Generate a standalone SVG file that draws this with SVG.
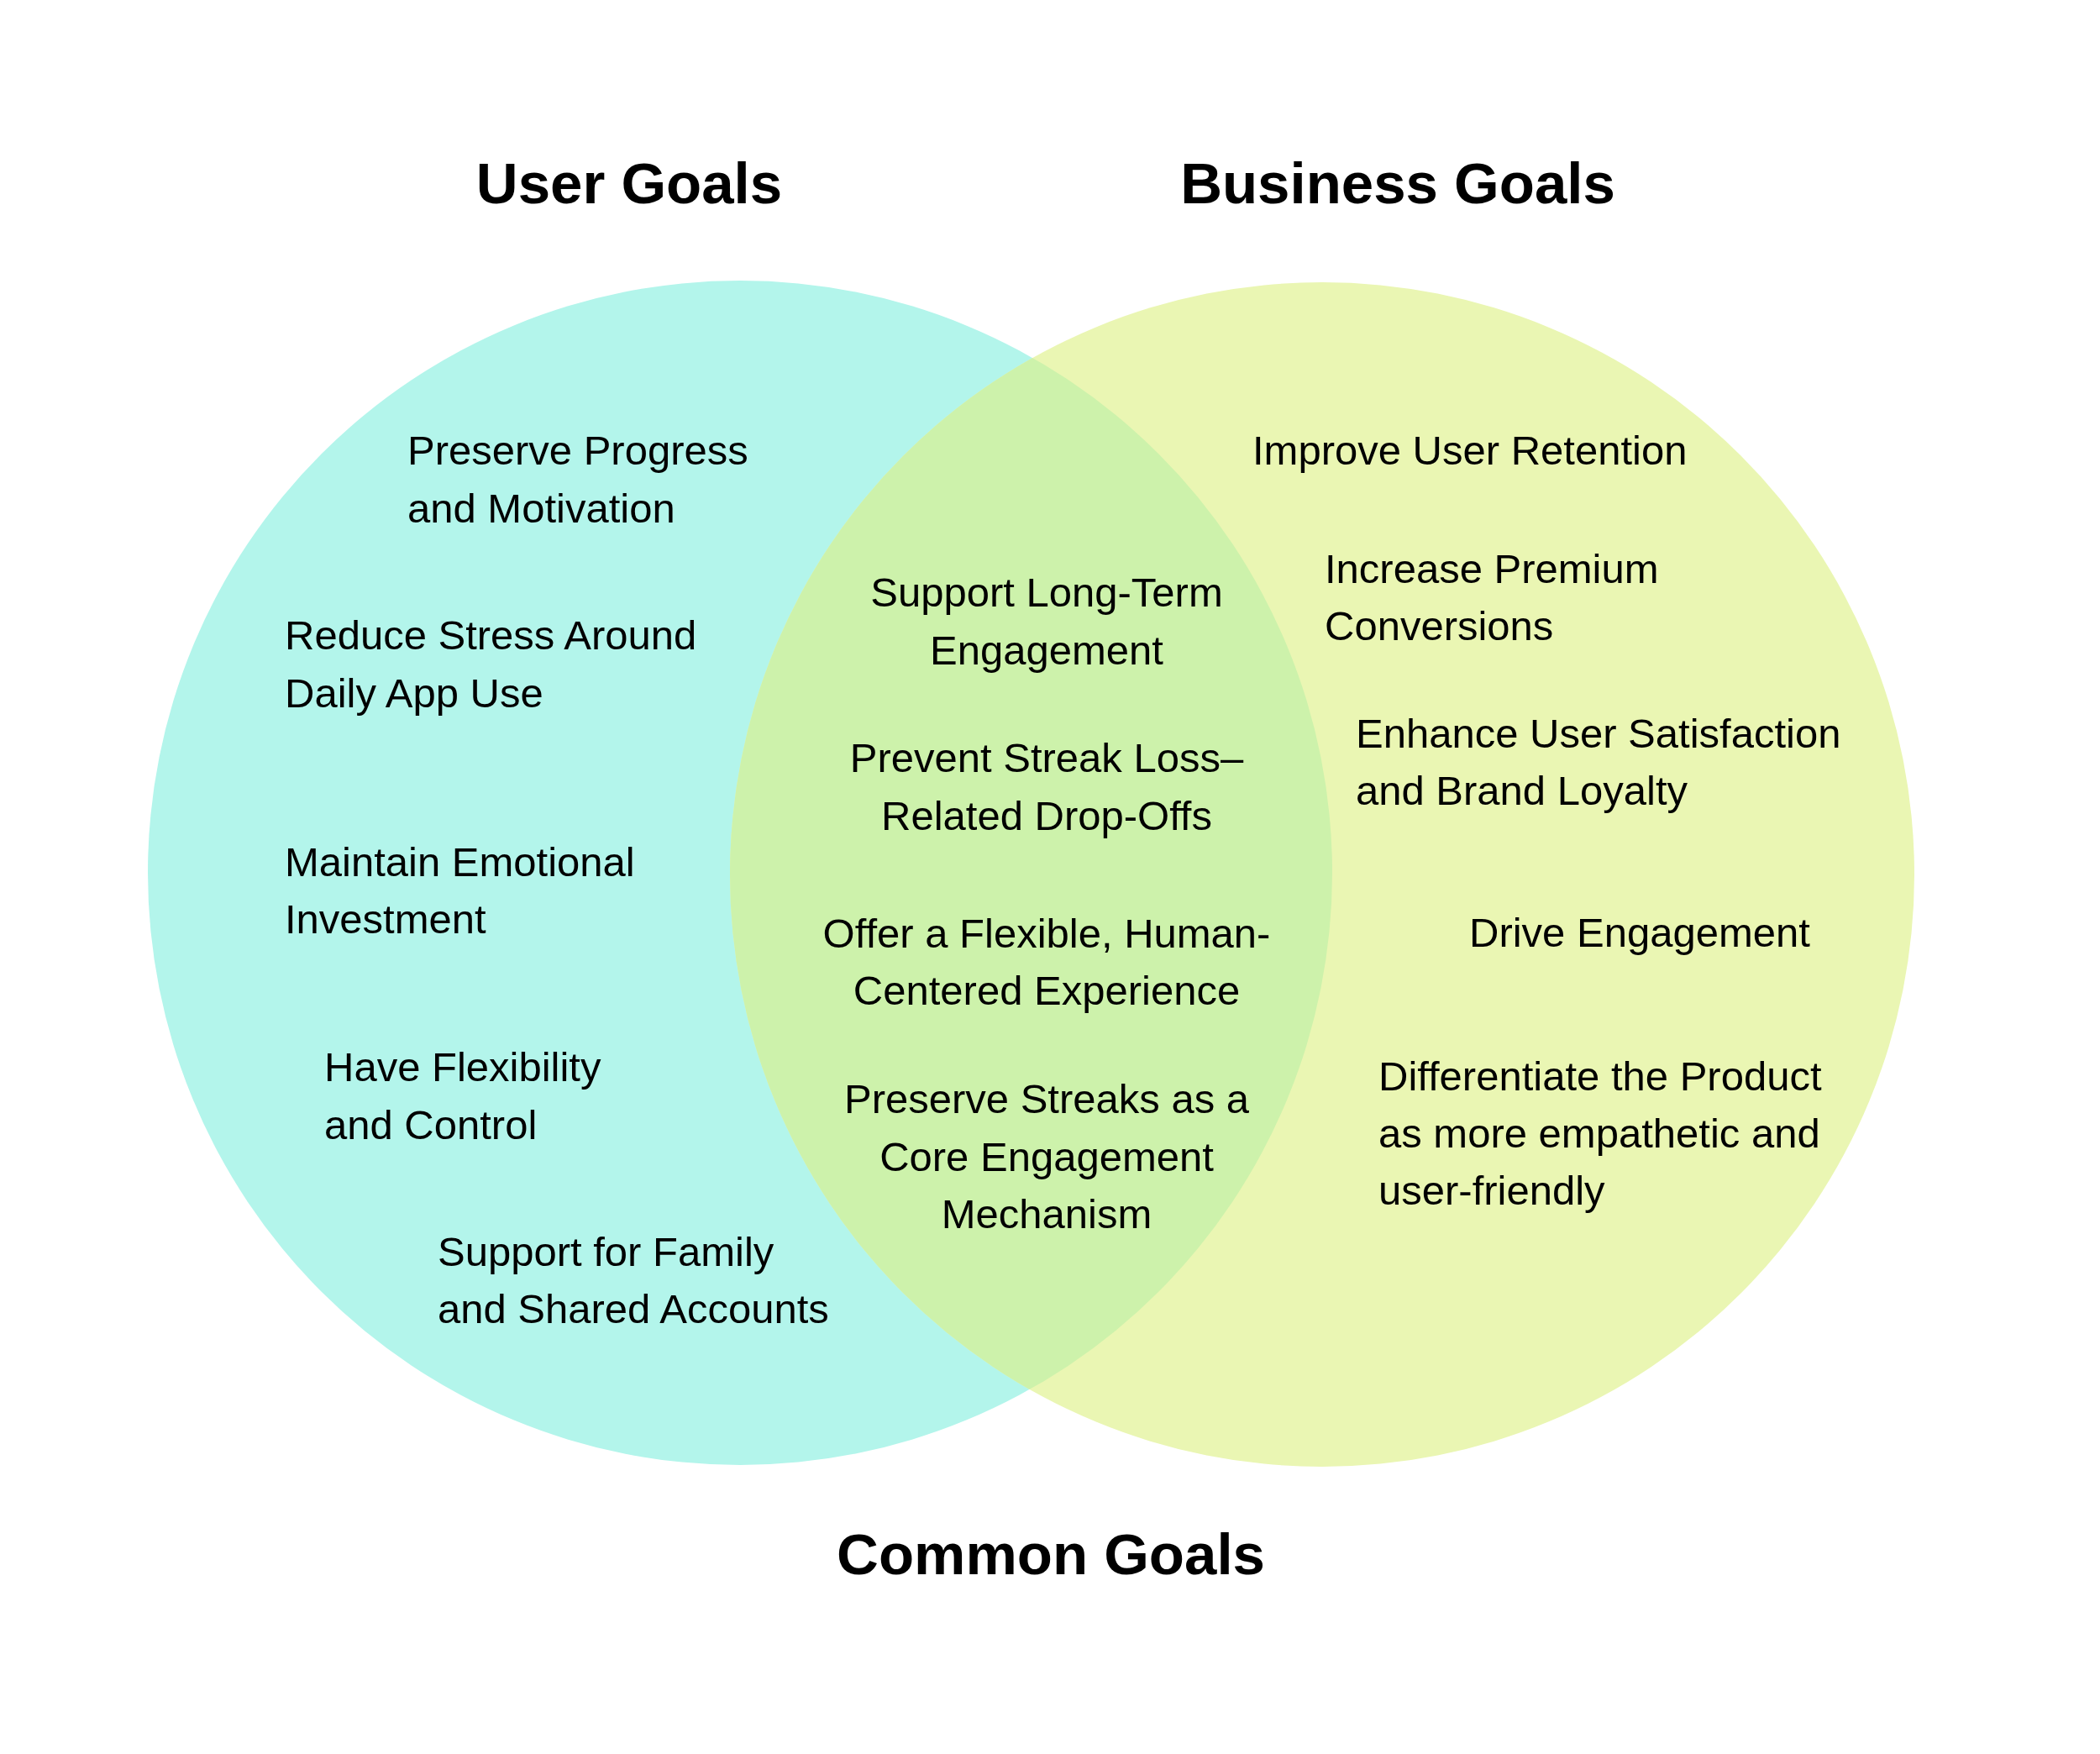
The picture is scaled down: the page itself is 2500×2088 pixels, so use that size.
<svg xmlns="http://www.w3.org/2000/svg" width="2500" height="2088" viewBox="0 0 2500 2088">
<style>
.t{font-family:"Liberation Sans",Arial,sans-serif;font-size:49px;fill:#000}
.c{text-anchor:middle}
.h{font-family:"Liberation Sans",Arial,sans-serif;font-size:69px;font-weight:bold;fill:#000;text-anchor:middle}
</style>
<defs>
<clipPath id="clipL"><circle cx="881" cy="1039" r="705"/></clipPath>
</defs>
<rect width="2500" height="2088" fill="#ffffff"/>
<g id="circles">
<circle id="user-circle" cx="881" cy="1039" r="705" fill="#b3f5eb"/>
<circle id="business-circle" cx="1574" cy="1041" r="705" fill="#eaf6b3"/>
<circle id="overlap" cx="1574" cy="1041" r="705" fill="#cdf2ab" clip-path="url(#clipL)"/>
</g>
<g id="titles">
<text id="user-title" class="h" x="749" y="242">User Goals</text>
<text id="business-title" class="h" x="1664" y="242">Business Goals</text>
<text id="common-title" class="h" x="1251" y="1874">Common Goals</text>
</g>
<g id="user-goals">
<g id="u1"><text class="t" x="485" y="553">Preserve Progress</text><text class="t" x="485" y="622">and Motivation</text></g>
<g id="u2"><text class="t" x="339" y="773">Reduce Stress Around</text><text class="t" x="339" y="842">Daily App Use</text></g>
<g id="u3"><text class="t" x="339" y="1043">Maintain Emotional</text><text class="t" x="339" y="1111">Investment</text></g>
<g id="u4"><text class="t" x="386" y="1287">Have Flexibility</text><text class="t" x="386" y="1356">and Control</text></g>
<g id="u5"><text class="t" x="521" y="1507">Support for Family</text><text class="t" x="521" y="1575">and Shared Accounts</text></g>
</g>
<g id="common-goals">
<g id="c1"><text class="t c" x="1246" y="722">Support Long-Term</text><text class="t c" x="1246" y="791">Engagement</text></g>
<g id="c2"><text class="t c" x="1246" y="919">Prevent Streak Loss–</text><text class="t c" x="1246" y="988">Related Drop-Offs</text></g>
<g id="c3"><text class="t c" x="1246" y="1128">Offer a Flexible, Human-</text><text class="t c" x="1246" y="1196">Centered Experience</text></g>
<g id="c4"><text class="t c" x="1246" y="1325">Preserve Streaks as a</text><text class="t c" x="1246" y="1394">Core Engagement</text><text class="t c" x="1246" y="1462">Mechanism</text></g>
</g>
<g id="business-goals">
<g id="b1"><text class="t" x="1491" y="553">Improve User Retention</text></g>
<g id="b2"><text class="t" x="1577" y="694">Increase Premium</text><text class="t" x="1577" y="762">Conversions</text></g>
<g id="b3"><text class="t" x="1614" y="890">Enhance User Satisfaction</text><text class="t" x="1614" y="958">and Brand Loyalty</text></g>
<g id="b4"><text class="t" x="1749" y="1127">Drive Engagement</text></g>
<g id="b5"><text class="t" x="1641" y="1298">Differentiate the Product</text><text class="t" x="1641" y="1366">as more empathetic and</text><text class="t" x="1641" y="1434">user-friendly</text></g>
</g>
</svg>
